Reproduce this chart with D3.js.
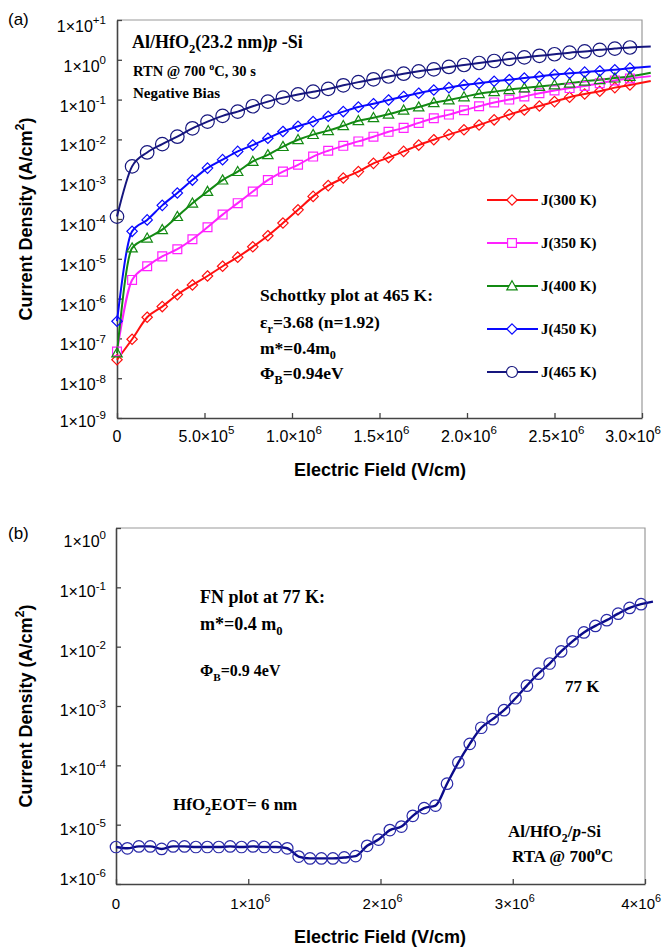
<!DOCTYPE html>
<html><head><meta charset="utf-8">
<script src="https://cdn.jsdelivr.net/npm/d3@7"></script>
<style>body{margin:0;background:#fff}svg{display:block}</style>
</head><body>
<svg id="c" width="662" height="948"></svg>
<script>
// ---------- DATA (panel a) ----------
const fieldA = [0, 0.0862e6, 0.1724e6, 0.2586e6, 0.3448e6, 0.4310e6, 0.5172e6, 0.6034e6, 0.6897e6, 0.7759e6,
  0.8621e6, 0.9483e6, 1.0345e6, 1.1207e6, 1.2069e6, 1.2931e6, 1.3793e6, 1.4655e6, 1.5517e6, 1.6379e6,
  1.7241e6, 1.8103e6, 1.8966e6, 1.9828e6, 2.0690e6, 2.1552e6, 2.2414e6, 2.3276e6, 2.4138e6, 2.5000e6,
  2.5862e6, 2.6724e6, 2.7586e6, 2.8448e6, 2.9310e6];
const J300 = [2.9e-8, 9.5e-8, 3.4e-7, 6.3e-7, 1.26e-6, 2.2e-6, 3.7e-6, 6.5e-6, 1.1e-5, 2.0e-5,
  3.8e-5, 7.9e-5, 1.7e-4, 3.7e-4, 6.9e-4, 1.07e-3, 1.55e-3, 2.5e-3, 3.5e-3, 5.0e-3,
  7.2e-3, 9.8e-3, 1.32e-2, 1.74e-2, 2.3e-2, 3.1e-2, 4.2e-2, 5.5e-2, 6.9e-2, 8.9e-2,
  0.115, 0.138, 0.162, 0.200, 0.234];
const J350 = [4.7e-8, 2.95e-6, 6.5e-6, 1.15e-5, 1.74e-5, 3.1e-5, 6.2e-5, 1.29e-4, 2.5e-4, 4.9e-4,
  9.5e-4, 1.55e-3, 2.3e-3, 3.7e-3, 5.2e-3, 6.9e-3, 8.9e-3, 1.17e-2, 1.55e-2, 1.95e-2,
  2.6e-2, 3.4e-2, 4.2e-2, 5.4e-2, 6.8e-2, 8.5e-2, 0.100, 0.120, 0.145, 0.170,
  0.195, 0.219, 0.257, 0.302, 0.339];
const J400 = [4.3e-8, 1.86e-5, 3.3e-5, 5.4e-5, 1.15e-4, 2.5e-4, 4.9e-4, 9.5e-4, 1.55e-3, 2.8e-3,
  4.1e-3, 6.6e-3, 9.8e-3, 1.32e-2, 1.66e-2, 2.2e-2, 2.95e-2, 3.5e-2, 4.3e-2, 5.4e-2,
  6.5e-2, 8.3e-2, 9.8e-2, 0.117, 0.141, 0.158, 0.178, 0.195, 0.214, 0.234,
  0.257, 0.288, 0.316, 0.347, 0.380];
const J450 = [2.7e-7, 4.9e-5, 9.5e-5, 2.2e-4, 4.5e-4, 9.5e-4, 1.9e-3, 3.1e-3, 5.0e-3, 7.2e-3,
  1.07e-2, 1.58e-2, 2.14e-2, 2.8e-2, 3.8e-2, 5.0e-2, 6.5e-2, 7.9e-2, 9.8e-2, 0.120,
  0.145, 0.174, 0.200, 0.234, 0.257, 0.288, 0.316, 0.347, 0.380, 0.427,
  0.457, 0.490, 0.525, 0.562, 0.617];
const J465 = [1.15e-4, 2.1e-3, 4.7e-3, 7.6e-3, 1.17e-2, 1.9e-2, 2.8e-2, 3.9e-2, 5.0e-2, 6.8e-2,
  8.9e-2, 0.112, 0.135, 0.158, 0.186, 0.229, 0.275, 0.324, 0.380, 0.447,
  0.513, 0.575, 0.661, 0.741, 0.832, 0.933, 1.05, 1.15, 1.26, 1.38,
  1.51, 1.62, 1.78, 1.91, 2.04];
// fitted lines continue slightly past the last measured point
const fitEndFieldA = 3.05e6;
const fitEndA = [0.295, 0.389, 0.47, 0.68, 2.16]; // 300,350,400,450,465 K
const seriesNamesA = ["J(300 K)", "J(350 K)", "J(400 K)", "J(450 K)", "J(465 K)"];
const yTicksA = [1e1, 1e0, 1e-1, 1e-2, 1e-3, 1e-4, 1e-5, 1e-6, 1e-7, 1e-8, 1e-9];
const yExpA = ["+1", "0", "-1", "-2", "-3", "-4", "-5", "-6", "-7", "-8", "-9"];
const xTicksA = [0, 0.5e6, 1.0e6, 1.5e6, 2.0e6, 2.5e6, 3.0e6];
const xBaseA = ["0", "5.0×10", "1.0×10", "1.5×10", "2.0×10", "2.5×10", "3.0×10"];
const xExpA = ["", "5", "6", "6", "6", "6", "6"];

// ---------- DATA (panel b) ----------
const fieldB = [0, 0.086e6, 0.173e6, 0.259e6, 0.345e6, 0.432e6, 0.518e6, 0.604e6, 0.690e6, 0.777e6,
  0.863e6, 0.949e6, 1.036e6, 1.122e6, 1.208e6, 1.295e6, 1.381e6, 1.467e6, 1.553e6, 1.640e6,
  1.726e6, 1.812e6, 1.899e6, 1.985e6, 2.071e6, 2.158e6, 2.244e6, 2.330e6, 2.416e6, 2.503e6,
  2.589e6, 2.675e6, 2.762e6, 2.848e6, 2.934e6, 3.021e6, 3.107e6, 3.193e6, 3.279e6, 3.366e6,
  3.452e6, 3.538e6, 3.625e6, 3.711e6, 3.797e6, 3.884e6, 3.970e6];
const J77 = [4.2e-6, 4.0e-6, 4.3e-6, 4.3e-6, 3.9e-6, 4.3e-6, 4.3e-6, 4.2e-6, 4.2e-6, 4.2e-6,
  4.3e-6, 4.2e-6, 4.3e-6, 4.2e-6, 4.2e-6, 4.0e-6, 2.9e-6, 2.7e-6, 2.7e-6, 2.7e-6,
  2.8e-6, 2.95e-6, 4.4e-6, 5.6e-6, 8.1e-6, 9.3e-6, 1.41e-5, 1.9e-5, 2.1e-5, 4.9e-5,
  1.12e-4, 2.3e-4, 4.3e-4, 6.0e-4, 8.5e-4, 1.35e-3, 2.2e-3, 3.5e-3, 5.2e-3, 8.3e-3,
  1.23e-2, 1.74e-2, 2.24e-2, 2.8e-2, 3.6e-2, 4.5e-2, 5.2e-2];
const fitEndFieldB = 4.06e6;
const fitEndB = 5.75e-2;
const yTicksB = [1e0, 1e-1, 1e-2, 1e-3, 1e-4, 1e-5, 1e-6];
const yExpB = ["0", "-1", "-2", "-3", "-4", "-5", "-6"];
const xTicksB = [0, 1e6, 2e6, 3e6, 4e6];
const xBaseB = ["0", "1×10", "2×10", "3×10", "4×10"];
const xExpB = ["", "6", "6", "6", "6"];

// ---------- STYLE ----------
const colorsA = ["#ff1010", "#ff22ff", "#138a13", "#0a0aff", "#16167e"];
const markersA = ["diamond", "square", "triangle", "diamond", "circle"];
const SANS = "'Liberation Sans', Arial, Helvetica, sans-serif";
const SERIF = "'Liberation Serif', 'Times New Roman', serif";

const svg = d3.select("#c");

function markerPath(kind, s) {
  if (kind === "diamond") return `M0,${-s}L${s},0L0,${s}L${-s},0Z`;
  if (kind === "square") { const h = s * 0.85; return `M${-h},${-h}H${h}V${h}H${-h}Z`; }
  if (kind === "triangle") return `M0,${-s}L${s},${s * 0.75}L${-s},${s * 0.75}Z`;
  return d3.arc()({innerRadius: 0, outerRadius: s * 1.25, startAngle: 0, endAngle: 2 * Math.PI});
}

function rich(sel, x, y, parts, size, opts = {}) {
  const t = sel.append("text").attr("x", x).attr("y", y)
    .attr("font-family", opts.family || SERIF)
    .attr("font-weight", opts.weight || "bold")
    .attr("font-size", size)
    .attr("text-anchor", opts.anchor || "start")
    .attr("fill", "#000");
  if (opts.transform) t.attr("transform", opts.transform);
  let shift = 0;
  parts.forEach(p => {
    const [s, k] = Array.isArray(p) ? p : [p, "n"];
    const target = k === "sub" ? size * 0.3 : k === "sup" ? -size * (opts.supRaise || 0.42) : 0;
    const ts = t.append("tspan").text(s).attr("dy", target - shift);
    shift = target;
    if (k === "sub" || k === "sup") ts.attr("font-size", size * (opts.supScale || 0.7));
    if (k === "i") ts.attr("font-style", "italic");
  });
  return t;
}

function tickLabel(g, x, y, base, exp, size, anchor) {
  const parts = exp ? [base, [exp, "sup"]] : [base];
  rich(g, x, y, parts, size, {family: SANS, weight: "normal", anchor: anchor, supScale: 0.72, supRaise: 0.48});
}

// ================= PANEL A =================
const xA = d3.scaleLinear().domain([0, 3e6]).range([117, 642]);
const yA = d3.scaleLog().domain([1e-9, 1e1]).range([418, 20]);

svg.append("path").attr("d", `M${xA(0)},${yA(1e1)}H${xA(3e6)}V${yA(1e-9)}`)
  .attr("fill", "none").attr("stroke", "#9a9a9a").attr("stroke-width", 1.2);

const gyA = svg.append("g").attr("transform", `translate(${xA(0)},0)`)
  .call(d3.axisLeft(yA).tickValues(yTicksA).tickSizeInner(-5).tickSizeOuter(0).tickFormat(""));
const gxA = svg.append("g").attr("transform", `translate(0,${yA(1e-9)})`)
  .call(d3.axisBottom(xA).tickValues(xTicksA).tickSizeInner(-5).tickSizeOuter(0).tickFormat(""));
[gyA, gxA].forEach(g => { g.attr("color", "#444"); g.select(".domain").attr("stroke-width", 1.6); g.selectAll(".tick line").attr("stroke-width", 1.3); g.selectAll(".tick text").remove(); });

const labA = svg.append("g");
yTicksA.forEach((v, i) => {
  const off = i === yTicksA.length - 1 ? 9 : 12;
  tickLabel(labA, 106, yA(v) + off, "1×10", yExpA[i], 16, "end");
});
xTicksA.forEach((v, i) => {
  const last = i === xTicksA.length - 1;
  tickLabel(labA, last ? 661 : xA(v) + (i === 0 ? 0 : 2), 442, xBaseA[i], xExpA[i], 16, last ? "end" : "middle");
});

// series
const seriesA = [J300, J350, J400, J450, J465];
const lineA = d3.line().x(d => xA(d[0])).y(d => yA(d[1])).curve(d3.curveMonotoneX);
seriesA.forEach((vals, s) => {
  const pts = fieldA.map((f, i) => [f, vals[i]]).concat([[fitEndFieldA, fitEndA[s]]]);
  svg.append("path").attr("d", lineA(pts)).attr("fill", "none")
    .attr("stroke", colorsA[s]).attr("stroke-width", 2);
});
seriesA.forEach((vals, s) => {
  const size = markersA[s] === "circle" ? 5.4 : 5.2;
  svg.append("g").selectAll("path").data(fieldA.map((f, i) => [f, vals[i]])).join("path")
    .attr("transform", d => `translate(${xA(d[0])},${yA(d[1])})`)
    .attr("d", markerPath(markersA[s], size))
    .attr("fill", "none").attr("stroke", colorsA[s]).attr("stroke-width", 1.2);
});

// legend
const legA = svg.append("g");
seriesNamesA.forEach((name, s) => {
  const ly = 200 + s * 43;
  legA.append("line").attr("x1", 487).attr("x2", 538).attr("y1", ly).attr("y2", ly)
    .attr("stroke", colorsA[s]).attr("stroke-width", 2);
  legA.append("path").attr("transform", `translate(512,${ly})`)
    .attr("d", markerPath(markersA[s], markersA[s] === "circle" ? 4.4 : 5.2))
    .attr("fill", "#fff").attr("stroke", colorsA[s]).attr("stroke-width", 1.2);
  rich(legA, 541, ly + 5, [name], 15);
});

// annotations
const annA = svg.append("g");
rich(annA, 132, 48, ["Al/HfO", ["2", "sub"], "(23.2 nm)", ["p", "i"], " -Si"], 18);
rich(annA, 133, 76, ["RTN @ 700 ", ["o", "sup"], "C, 30 s"], 14.5);
rich(annA, 133, 98, ["Negative Bias"], 15);
rich(annA, 260, 301, ["Schottky plot at 465 K:"], 17.5);
rich(annA, 260, 328, ["ε", ["r", "sub"], "=3.68 (n=1.92)"], 17.5);
rich(annA, 260, 354, ["m*=0.4m", ["0", "sub"]], 17.5);
rich(annA, 260, 379, ["Φ", ["B", "sub"], "=0.94eV"], 17.5);

// titles
rich(svg, 8, 25, ["(a)"], 17, {family: SANS, weight: "normal"});
rich(svg, 380, 476, ["Electric Field (V/cm)"], 18, {family: SANS, anchor: "middle"});
rich(svg, 0, 0, ["Current Density (A/cm", ["2", "sup"], ")"], 18,
  {family: SANS, anchor: "middle", transform: `translate(32,${(yA(1e1) + yA(1e-9)) / 2}) rotate(-90)`});

// ================= PANEL B =================
const xB = d3.scaleLinear().domain([0, 4e6]).range([116, 645]);
const yB = d3.scaleLog().domain([1e-6, 1e0]).range([884, 528]);

svg.append("path").attr("d", `M${xB(0)},${yB(1)}H${xB(4e6)}V${yB(1e-6)}`)
  .attr("fill", "none").attr("stroke", "#9a9a9a").attr("stroke-width", 1.2);

const gyB = svg.append("g").attr("transform", `translate(${xB(0)},0)`)
  .call(d3.axisLeft(yB).tickValues(yTicksB).tickSizeInner(-5).tickSizeOuter(0).tickFormat(""));
const gxB = svg.append("g").attr("transform", `translate(0,${yB(1e-6)})`)
  .call(d3.axisBottom(xB).tickValues(xTicksB).tickSizeInner(-5).tickSizeOuter(0).tickFormat(""));
[gyB, gxB].forEach(g => { g.attr("color", "#444"); g.select(".domain").attr("stroke-width", 1.6); g.selectAll(".tick line").attr("stroke-width", 1.3); g.selectAll(".tick text").remove(); });

const labB = svg.append("g");
yTicksB.forEach((v, i) => {
  const off = i === 0 ? 19 : (i === yTicksB.length - 1 ? 1 : 10);
  tickLabel(labB, 106, yB(v) + off, "1×10", yExpB[i], 16, "end");
});
xTicksB.forEach((v, i) => {
  const last = i === xTicksB.length - 1;
  tickLabel(labB, last ? 661 : xB(v) + (i === 0 ? 0 : 2), 909, xBaseB[i], xExpB[i], 15, last ? "end" : "middle");
});

const lineB = d3.line().x(d => xB(d[0])).y(d => yB(d[1])).curve(d3.curveMonotoneX);
const ptsB = fieldB.map((f, i) => [f, J77[i]]);
svg.append("path").attr("d", lineB(ptsB.concat([[fitEndFieldB, fitEndB]])))
  .attr("fill", "none").attr("stroke", "#0b0b8a").attr("stroke-width", 2.4);
svg.append("g").selectAll("path").data(ptsB).join("path")
  .attr("transform", d => `translate(${xB(d[0])},${yB(d[1])})`)
  .attr("d", markerPath("circle", 4.6))
  .attr("fill", "none").attr("stroke", "#2a2aa8").attr("stroke-width", 1.2);

const annB = svg.append("g");
rich(annB, 200, 603, ["FN plot at 77 K:"], 18);
rich(annB, 200, 630, ["m*=0.4 m", ["0", "sub"]], 18);
rich(annB, 200, 676, ["Φ", ["B", "sub"], "=0.9 4eV"], 16);
rich(annB, 565, 692, ["77 K"], 17);
rich(annB, 173, 810, ["HfO", ["2", "sub"], "EOT= 6 nm"], 17);
rich(annB, 508, 837, ["Al/HfO", ["2", "sub"], "/", ["p", "i"], "-Si"], 17);
rich(annB, 512, 862, ["RTA @ 700", ["o", "sup"], "C"], 17);

rich(svg, 8, 539, ["(b)"], 17, {family: SANS, weight: "normal"});
rich(svg, 380, 943, ["Electric Field (V/cm)"], 18, {family: SANS, anchor: "middle"});
rich(svg, 0, 0, ["Current Density (A/cm", ["2", "sup"], ")"], 18,
  {family: SANS, anchor: "middle", transform: `translate(32,${(yB(1) + yB(1e-6)) / 2}) rotate(-90)`});
</script>
</body></html>
